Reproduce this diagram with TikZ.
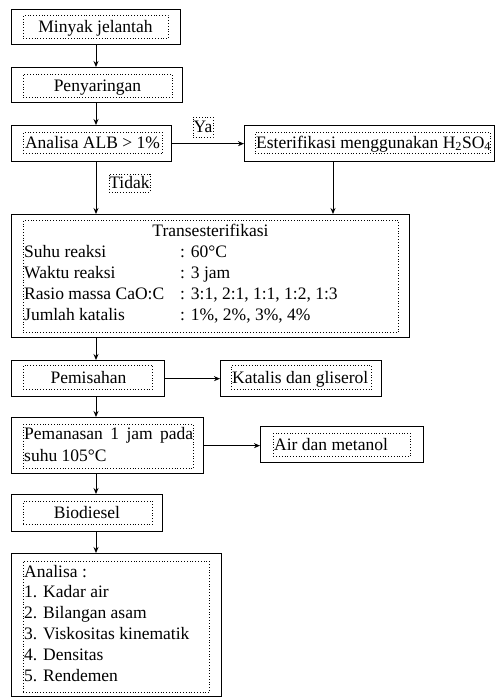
\documentclass[tikz,border=0pt]{standalone}
\usepackage{fontspec}
\setmainfont{Liberation Serif}
\usetikzlibrary{arrows.meta}
\begin{document}
\begin{tikzpicture}[x=1pt,y=-1pt,
  font=\fontsize{17.5}{21}\selectfont,
  outerbox/.style={draw,line width=1.3pt,inner sep=0pt,anchor=north west},
  dotbox/.style={draw,dotted,line width=0.8pt,inner sep=0pt,anchor=north west},
  lbl/.style={draw,dotted,line width=0.8pt,inner sep=0pt,anchor=center},
  txt/.style={inner sep=0pt,anchor=base},
  ltxt/.style={inner sep=0pt,anchor=base west},
  conn/.style={line width=0.9pt,-{Stealth[length=6pt,width=5pt]}}]
\useasboundingbox (0,0) rectangle (495,697);
\coordinate (sp) at (96,0);
% outer boxes
\node[outerbox,minimum width=169pt,minimum height=35pt] (o1) at (11,9) {};
\node[outerbox,minimum width=171pt,minimum height=35pt] (o2) at (11,67) {};
\node[outerbox,minimum width=160pt,minimum height=36pt] (o3) at (11,125) {};
\node[outerbox,minimum width=250pt,minimum height=36pt] (o4) at (244,125) {};
\node[outerbox,minimum width=398pt,minimum height=123pt] (o5) at (11,214) {};
\node[outerbox,minimum width=153pt,minimum height=36pt] (o6) at (11,360) {};
\node[outerbox,minimum width=161pt,minimum height=36pt] (o7) at (220,360) {};
\node[outerbox,minimum width=192pt,minimum height=56pt] (o8) at (11,417) {};
\node[outerbox,minimum width=163pt,minimum height=36pt] (o9) at (260,426) {};
\node[outerbox,minimum width=151pt,minimum height=37pt] (o10) at (11,494) {};
\node[outerbox,minimum width=210pt,minimum height=143pt] (o11) at (11,553) {};
% dotted inner boxes
\node[dotbox,minimum width=145pt,minimum height=23pt] (d1) at (23,15) {};
\node[dotbox,minimum width=149pt,minimum height=23pt] (d2) at (23,74) {};
\node[dotbox,minimum width=139pt,minimum height=21pt] (d3) at (23,132) {};
\node[dotbox,minimum width=235pt,minimum height=21pt] (d4) at (255,132) {};
\node[dotbox,minimum width=375pt,minimum height=112pt] (d5) at (23,220) {};
\node[dotbox,minimum width=129pt,minimum height=24pt] (d6) at (23,365) {};
\node[dotbox,minimum width=140pt,minimum height=24pt] (d7) at (231,365) {};
\node[dotbox,minimum width=170pt,minimum height=44pt] (d8) at (23,424) {};
\node[dotbox,minimum width=137pt,minimum height=23pt] (d9) at (273,433) {};
\node[dotbox,minimum width=129pt,minimum height=23pt] (d10) at (23,501) {};
\node[dotbox,minimum width=186pt,minimum height=131pt] (d11) at (23,561) {};
% texts
\node[txt] (t1) at (95.5,32) {Minyak jelantah};
\node[txt] (t2) at (97.5,91) {Penyaringan};
\node[txt] (t3) at (92.5,148) {Analisa ALB > 1\%};
\node[ltxt] (t4) at (256,148) {Esterifikasi menggunakan H\textsubscript{2}SO\textsubscript{4}};
\node[txt] (t5a) at (210.5,236.5) {Transesterifikasi};
\node[ltxt] (t5b) at (24,257.5) {Suhu reaksi};
\node[ltxt] (t5c) at (24,278.5) {Waktu reaksi};
\node[ltxt] (t5d) at (24,299.5) {Rasio massa CaO:C};
\node[ltxt] (t5e) at (24,320.5) {Jumlah katalis};
\node[ltxt] (t5f) at (180,257.5) {: 60°C};
\node[ltxt] (t5g) at (180,278.5) {: 3 jam};
\node[ltxt] (t5h) at (180,299.5) {: 3:1, 2:1, 1:1, 1:2, 1:3};
\node[ltxt] (t5i) at (180,320.5) {: 1\%, 2\%, 3\%, 4\%};
\node[txt] (t6) at (88.5,383) {Pemisahan};
\node[ltxt] (t7) at (232,383) {Katalis dan gliserol};
\node[ltxt] (t8a) at (24,439) {\makebox[169pt][s]{Pemanasan 1 jam pada}};
\node[ltxt] (t8b) at (24,461) {suhu 105°C};
\node[ltxt] (t9) at (274,450) {Air dan metanol};
\node[txt] (t10) at (87,518) {Biodiesel};
\node[ltxt] (t11a) at (24,577) {Analisa :};
\node[ltxt] (t11b) at (24,597.8) {1. Kadar air};
\node[ltxt] (t11c) at (24,618.6) {2. Bilangan asam};
\node[ltxt] (t11d) at (24,639.4) {3. Viskositas kinematik};
\node[ltxt] (t11e) at (24,660.2) {4. Densitas};
\node[ltxt] (t11f) at (24,681) {5. Rendemen};
% labels
\node[lbl,minimum width=20pt,minimum height=20pt] (ya) at (203,127) {Ya};
\node[lbl,minimum width=41pt,minimum height=18pt] (tidak) at (129.5,183) {Tidak};
% connectors
\draw[conn] (o1.south -| sp) -- (o2.north -| sp);
\draw[conn] (o2.south -| sp) -- (o3.north -| sp);
\draw[conn] (o3.east) -- (o4.west);
\draw[conn] (o3.south -| sp) -- (o5.north -| sp);
\coordinate (ex) at (333,0);
\draw[conn] (o4.south -| ex) -- (o5.north -| ex);
\draw[conn] (o5.south -| sp) -- (o6.north -| sp);
\draw[conn] (o6.east) -- (o7.west);
\draw[conn] (o6.south -| sp) -- (o8.north -| sp);
\draw[conn] (o8.east) -- (o9.west |- o8.east);
\draw[conn] (o8.south -| sp) -- (o10.north -| sp);
\draw[conn] (o10.south -| sp) -- (o11.north -| sp);
\end{tikzpicture}
\end{document}
